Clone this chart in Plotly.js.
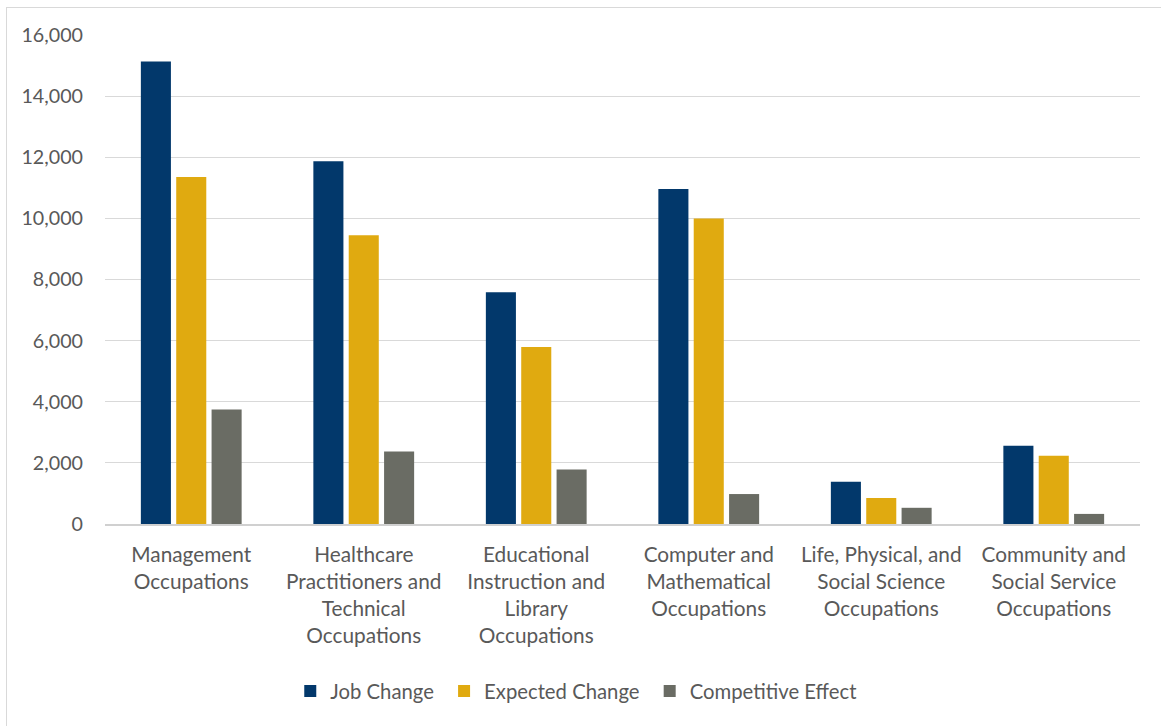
<!DOCTYPE html>
<html>
<head>
<meta charset="utf-8">
<script src="https://cdn.plot.ly/plotly-3.0.1.min.js"></script>
<style>
html,body{margin:0;padding:0;background:#fff;}
#wrap{position:absolute;left:6px;top:7px;width:1155px;height:719px;border-left:1px solid #d9d9d9;border-top:1px solid #d9d9d9;box-sizing:border-box;}
#chart{width:1154px;height:718px;}
</style>
</head>
<body>
<div id="wrap"><div id="chart"></div></div>
<script>
const categories = [
  "Management<br>Occupations",
  "Healthcare<br>Practitioners and<br>Technical<br>Occupations",
  "Educational<br>Instruction and<br>Library<br>Occupations",
  "Computer and<br>Mathematical<br>Occupations",
  "Life, Physical, and<br>Social Science<br>Occupations",
  "Community and<br>Social Service<br>Occupations"
];
const jobChange = [15130, 11870, 7580, 10960, 1380, 2560];
const expectedChange = [11350, 9450, 5790, 10000, 850, 2230];
const competitiveEffect = [3750, 2370, 1780, 980, 530, 330];
const seriesNames = ["Job Change", "Expected Change", "Competitive Effect"];
const colors = ["#02386b", "#e0aa10", "#6a6c64"];

const font = "Lato, 'Open Sans', sans-serif";
const traces = [jobChange, expectedChange, competitiveEffect].map((vals, i) => ({
  type: "bar",
  name: seriesNames[i] + "\u00a0",
  x: categories,
  y: vals,
  marker: {color: colors[i]},
  hoverinfo: "skip"
}));

const layout = {
  width: 1154, height: 718,
  margin: {l: 98, r: 21, t: 27, b: 202},
  paper_bgcolor: "#fff", plot_bgcolor: "#fff",
  barmode: "group",
  bargap: 0.385,
  bargroupgap: 0.15,
  font: {family: font, color: "#595959", size: 20},
  xaxis: {
    type: "category",
    showgrid: false,
    showline: true, linecolor: "#d0d0d0", linewidth: 2,
    ticks: "",
    ticklabelstandoff: 11,
    tickfont: {family: font, size: 20.8, color: "#595959"},
    tickangle: 0
  },
  yaxis: {
    range: [0, 16000],
    dtick: 2000,
    tickformat: ",d",
    showgrid: true, gridcolor: "#d9d9d9", gridwidth: 1,
    zeroline: false,
    showline: false,
    ticks: "",
    ticklabelstandoff: 21,
    tickfont: {family: font, size: 19.7, color: "#595959"}
  },
  showlegend: true,
  legend: {
    orientation: "h",
    x: 0.179, xanchor: "left",
    y: -0.342, yanchor: "middle",
    font: {family: font, size: 20.3, color: "#595959"},
    itemwidth: 30,
    traceorder: "normal"
  }
};

Plotly.newPlot("chart", traces, layout, {displayModeBar: false, staticPlot: true});
</script>
</body>
</html>
